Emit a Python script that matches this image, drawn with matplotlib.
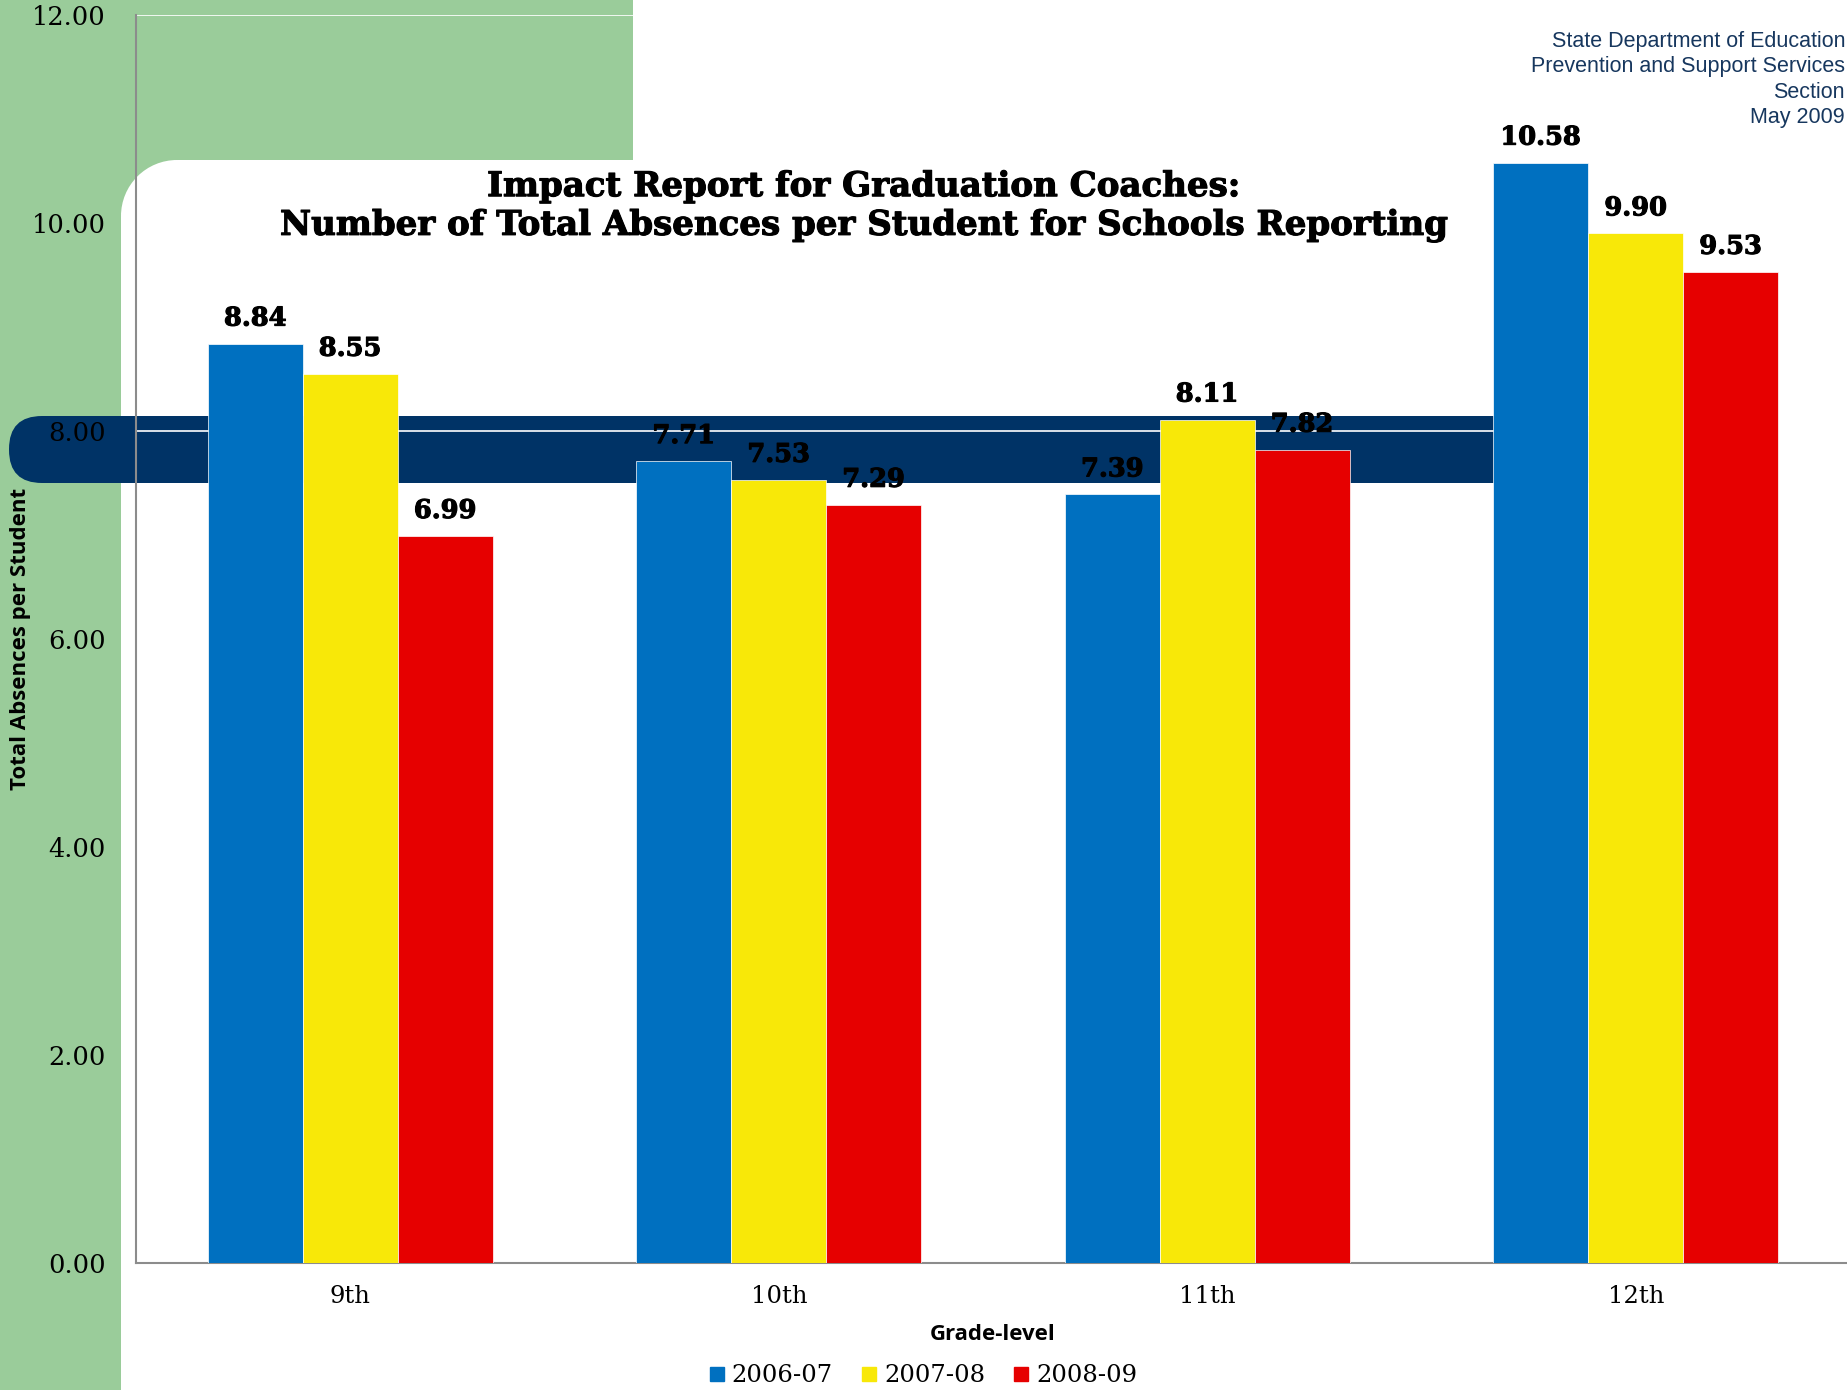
import numpy as np
import matplotlib
matplotlib.use("Agg")
import matplotlib.pyplot as plt
import matplotlib.patheffects as pe
from matplotlib.patches import Rectangle, Circle, FancyBboxPatch
from matplotlib.lines import Line2D

# absences per student by grade and school year
grades = ["9th", "10th", "11th", "12th"]
years = ["2006-07", "2007-08", "2008-09"]
abs_0607 = [8.84, 7.71, 7.39, 10.58]
abs_0708 = [8.55, 7.53, 8.11, 9.90]
abs_0809 = [6.99, 7.29, 7.82, 9.53]
yticks = [0, 2, 4, 6, 8, 10, 12]

colors = ["#0070C0", "#F8E808", "#E60000"]
green = "#9ACC9A"
navy = "#003366"

# heavier look for the bold serif text
heavy = [pe.withStroke(linewidth=0.8, foreground="black")]

W, H = 1847, 1390
fig = plt.figure(figsize=(W / 100, H / 100), dpi=100)

# background decoration, drawn in pixel coords
bg = fig.add_axes([0, 0, 1, 1], zorder=0)
bg.set_xlim(0, W)
bg.set_ylim(H, 0)
bg.axis("off")
bg.add_patch(Rectangle((0, 0), 121, H, color=green, lw=0))
bg.add_patch(Rectangle((0, 0), 633, 160, color=green, lw=0))
bg.add_patch(Rectangle((120, 159), 58, 58, color=green, lw=0))
bg.add_patch(Circle((177, 216), 56, color="white", lw=0))
bg.add_patch(FancyBboxPatch((9, 416), 1630, 67,
                            boxstyle="round,pad=0,rounding_size=33",
                            color=navy, lw=0))

# main chart
x0, x1, ytop, ybot = 136, 1850, 15, 1263
ax = fig.add_axes([x0 / W, 1 - ybot / H, (x1 - x0) / W, (ybot - ytop) / H], zorder=1)
ax.set_facecolor("none")

x = np.arange(len(grades))
bw = 0.2215
series = [abs_0607, abs_0708, abs_0809]
for i, vals in enumerate(series):
    pos = x + (i - 1) * bw
    bars = ax.bar(pos, vals, bw, color=colors[i], edgecolor="white",
                  linewidth=0.5, label=years[i], zorder=3)
    for xp, v in zip(pos, vals):
        ax.annotate(f"{v:.2f}", (xp, v), xytext=(0, 13), textcoords="offset points",
                    ha="center", va="baseline", fontsize=18.5, fontweight="bold",
                    family="DejaVu Serif", zorder=4, path_effects=heavy)

ax.set_xlim(-0.5, 3.5)
ax.set_ylim(0, 12)
ax.set_yticks(yticks)
ax.set_yticklabels([f"{t:.2f}" for t in yticks], family="DejaVu Serif", fontsize=18.5)
ax.set_xticks(x)
ax.set_xticklabels(grades, family="DejaVu Serif", fontsize=17.5)
ax.tick_params(length=0)
ax.tick_params(axis="y", pad=22)
ax.tick_params(axis="x", pad=16)
ax.grid(axis="y", color="white", linewidth=1.2, zorder=1)
ax.set_axisbelow(True)
for s in ["top", "right"]:
    ax.spines[s].set_visible(False)
for s in ["left", "bottom"]:
    ax.spines[s].set_color("#8c8c8c")
    ax.spines[s].set_linewidth(1.5)

# titles and labels
fig.text(863 / W, 1 - 206 / H,
         "Impact Report for Graduation Coaches:\nNumber of Total Absences per Student for Schools Reporting",
         ha="center", va="center", family="DejaVu Serif", fontweight="bold",
         fontsize=24.5, linespacing=1.22, path_effects=heavy)
fig.text(1845 / W, 1 - 31 / H,
         "State Department of Education\nPrevention and Support Services\nSection\nMay 2009",
         ha="right", va="top", family="Liberation Sans", fontsize=15.5,
         color="#17375E", linespacing=1.27)
fig.text(21 / W, 1 - 639 / H, "Total Absences per Student", rotation=90,
         ha="center", va="center", family="Open Sans", fontweight="bold", fontsize=16)
fig.text(993 / W, 1 - 1335 / H, "Grade-level", ha="center", va="center",
         family="Open Sans", fontweight="bold", fontsize=16)

handles = [Line2D([], [], marker="s", linestyle="none", markersize=10,
                  markerfacecolor=c, markeredgecolor=c) for c in colors]
fig.legend(handles, years, loc="center", bbox_to_anchor=(921 / W, 1 - 1376 / H),
           ncol=3, frameon=False, handletextpad=0.1, columnspacing=1.0,
           handlelength=1.0, prop={"family": "DejaVu Serif", "size": 17.5})

fig.savefig("out.png", dpi=100)
